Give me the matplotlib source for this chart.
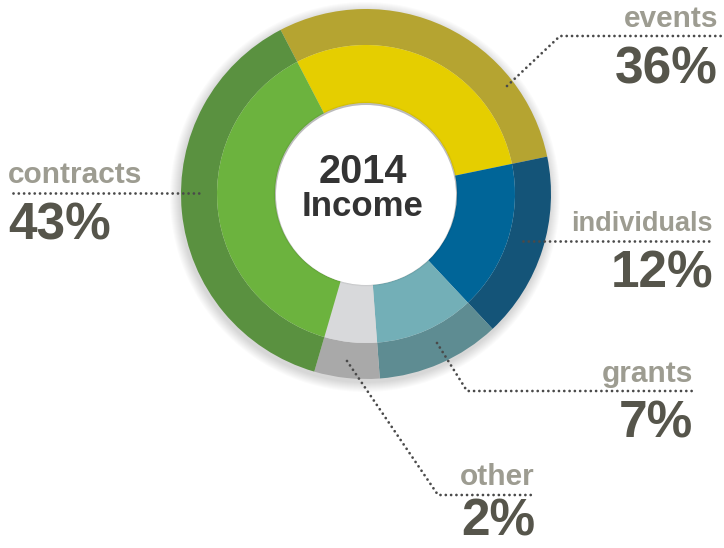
import matplotlib.pyplot as plt
from matplotlib.patches import Circle

# categories, printed shares, and wedge shares as drawn in the picture
categories = ['events', 'individuals', 'grants', 'other', 'contracts']
pct_labels = ['36%', '12%', '7%', '2%', '43%']
wedge_share = [29.4, 16.25, 10.8, 5.7, 37.85]

outer_colors = ['#B5A431', '#145478', '#5E8C92', '#A9A9A9', '#5A9140']
inner_colors = ['#E5CE00', '#006598', '#73AFB7', '#D8D9DB', '#6CB33E']

W, H = 724, 548

def py(y):
    # pixel row (from top) -> data y (from bottom)
    return H - y

fig = plt.figure(figsize=(W / 100, H / 100), dpi=100)
ax = fig.add_axes([0, 0, 1, 1])

cx, cy = 366, py(194)
R_out, R_mid, R_in = 185, 149, 92

# soft shadow round the ring
for k in range(1, 11):
    ax.add_patch(Circle((cx - 1, cy - 3), R_out + k, color='#000000',
                        alpha=0.016, lw=0, zorder=0))

ax.pie(wedge_share, radius=R_out, center=(cx, cy), startangle=117.5,
       counterclock=False, colors=outer_colors,
       wedgeprops=dict(width=R_out - R_mid, edgecolor='none', linewidth=0))
ax.pie(wedge_share, radius=R_mid, center=(cx, cy), startangle=117.5,
       counterclock=False, colors=inner_colors,
       wedgeprops=dict(width=R_mid - R_in + 1, edgecolor='none', linewidth=0))

# faint shadow inside the hole, then the white hole
for k in range(1, 5):
    ax.add_patch(Circle((cx, cy), R_in + 1 - k * 0.6, color='#000000',
                        alpha=0.03, lw=0, zorder=3))
ax.add_patch(Circle((cx, cy - 1), R_in - 2, color='white', lw=0, zorder=4))

ax.text(363, py(183), '2014', ha='center', va='baseline', fontsize=28.5,
        fontweight='bold', color='#333333', family='Liberation Sans', zorder=5)
ax.text(363, py(216), 'Income', ha='center', va='baseline', fontsize=25,
        fontweight='bold', color='#333333', family='Liberation Sans', zorder=5)

# label layout (pixel coords from top-left)
label_x = [718, 713, 693, 535, 8]
label_ha = ['right', 'right', 'right', 'right', 'left']
label_base = [27, 231, 382, 485, 183]
pct_base = [83, 287, 438, 536, 239]
label_size = [21.5, 19.5, 21.5, 21.5, 21.5]
leader_lines = [
    [(507, 86), (560, 36), (722, 36)],
    [(523, 241), (713, 241)],
    [(437, 343), (467, 391), (693, 391)],
    [(347, 361), (438, 495), (535, 495)],
    [(13, 193), (200, 193)],
]

for i, cat in enumerate(categories):
    ax.text(label_x[i], py(label_base[i]), cat, ha=label_ha[i], va='baseline',
            fontsize=label_size[i], fontweight='bold', color='#9D9C91',
            family='Liberation Sans', zorder=6)
    ax.text(label_x[i], py(pct_base[i]), pct_labels[i], ha=label_ha[i],
            va='baseline', fontsize=37, fontweight='bold', color='#56554B',
            family='Liberation Sans', zorder=6)
    xs = [p[0] for p in leader_lines[i]]
    ys = [py(p[1]) for p in leader_lines[i]]
    ax.plot(xs, ys, color='#4A4A4A', lw=2.0, linestyle=(0, (0.01, 1.9)),
            dash_capstyle='round', solid_capstyle='round', zorder=7)

ax.set_xlim(0, W)
ax.set_ylim(0, H)
ax.set_aspect('equal')
ax.axis('off')

fig.savefig('out.png', dpi=100)
